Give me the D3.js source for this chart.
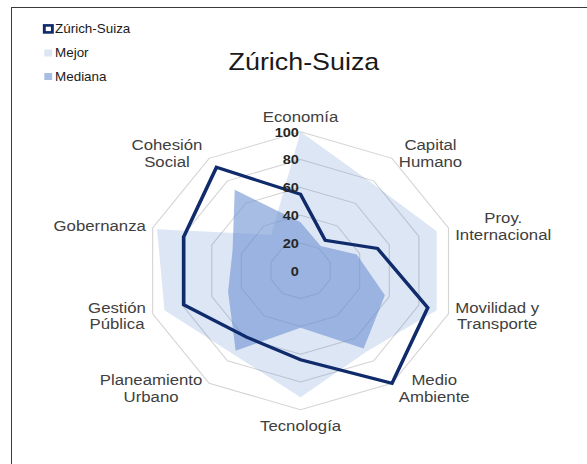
<!DOCTYPE html>
<html>
<head>
<meta charset="utf-8">
<script src="https://cdn.jsdelivr.net/npm/d3@7"></script>
<style>
  html, body { margin: 0; padding: 0; background: #fff; }
  svg { display: block; }
  text { font-family: "Liberation Sans", Arial, sans-serif; }
</style>
</head>
<body>
<svg id="chart" width="587" height="464"></svg>
<script>
// ---- data ----
const categories = ["Economía", "Capital Humano", "Proy. Internacional", "Movilidad y Transporte",
  "Medio Ambiente", "Tecnología", "Planeamiento Urbano", "Gestión Pública", "Gobernanza", "Cohesión Social"];
const categoryLines = [["Economía"], ["Capital", "Humano"], ["Proy.", "Internacional"], ["Movilidad y", "Transporte"],
  ["Medio", "Ambiente"], ["Tecnología"], ["Planeamiento", "Urbano"], ["Gestión", "Pública"], ["Gobernanza"], ["Cohesión", "Social"]];
const zurich = [55, 27, 52, 86, 100, 64, 59, 79, 79, 92];
const mejor = [100, 78, 92, 92, 72, 91, 74, 92, 97, 32];
const mediana = [35, 22, 38, 57, 69, 41, 71, 49, 46, 72];
const tickValues = [0, 20, 40, 60, 80, 100];
const seriesNames = ["Zúrich-Suiza", "Mejor", "Mediana"];
const titleText = "Zúrich-Suiza";

// ---- layout ----
const svg = d3.select("#chart");
const sx = 1.119;           // horizontal stretch of the original picture
const cx = 268.6, cy = 270.8, R = 139;

// frame (left and top edges visible)
svg.append("rect")
  .attr("x", 11.5).attr("y", 7.5).attr("width", 700).attr("height", 600)
  .attr("fill", "none").attr("stroke", "#3a3a3a").attr("stroke-width", 1);

const g = svg.append("g").attr("transform", `scale(${sx},1)`);

const r = d3.scaleLinear().domain([0, 100]).range([0, R]);
const ang = d3.scaleLinear().domain([0, categories.length]).range([0, 2 * Math.PI]);

const plot = g.append("g").attr("transform", `translate(${cx},${cy})`);

// grid rings
const ring = d3.lineRadial().curve(d3.curveLinearClosed);
tickValues.filter(t => t > 0).forEach(t => {
  plot.append("path")
    .attr("d", ring(categories.map((c, i) => [ang(i), r(t)])))
    .attr("fill", "none").attr("stroke", "#d4d4d4").attr("stroke-width", 1);
});

const radial = d3.lineRadial()
  .angle((d, i) => ang(i))
  .radius(d => r(d))
  .curve(d3.curveLinearClosed);

// filled series
plot.append("path").attr("d", radial(mejor))
  .attr("fill", "rgb(68,114,196)").attr("fill-opacity", 0.18);
plot.append("path").attr("d", radial(mediana))
  .attr("fill", "rgb(110,145,210)").attr("fill-opacity", 0.6);

// line series
plot.append("path").attr("d", radial(zurich))
  .attr("fill", "none").attr("stroke", "#0f2b6b").attr("stroke-width", 3.2)
  .attr("stroke-linejoin", "miter");

// tick labels
plot.selectAll("text.tick").data(tickValues).enter().append("text")
  .attr("class", "tick")
  .attr("x", -1.5)
  .attr("y", d => -r(d) + 4.7)
  .attr("text-anchor", "end")
  .attr("font-size", 13).attr("font-weight", "bold").attr("fill", "#262626")
  .text(d => d);

// category labels
categoryLines.forEach((lines, i) => {
  const a = ang(i);
  const s = Math.sin(a), c = Math.cos(a);
  const vx = R * s, vy = -R * c;
  const t = plot.append("text").attr("font-size", 15).attr("fill", "#404040").attr("text-anchor", "middle");
  lines.forEach((ln, k) => t.append("tspan").attr("x", 0).attr("dy", k === 0 ? 0 : 17).text(ln));
  const w = t.node().getBBox().width;
  let x, y0;
  if (Math.abs(s) < 0.1) {
    x = vx;
    y0 = c > 0 ? vy - 10 : vy + 21;
  } else {
    x = vx + Math.sign(s) * (6 + w / 2);
    const yc = vy - 6 * c;
    y0 = yc - (lines.length - 1) * 8.5 + 5.4;
  }
  t.attr("transform", `translate(${x},${y0})`);
});

// title
g.append("text")
  .attr("x", 271.6).attr("y", 70)
  .attr("text-anchor", "middle").attr("font-size", 24).attr("fill", "#1a1a1a")
  .text(titleText);

// legend
const legend = g.append("g");
const rowY = [29, 53, 76.5];
seriesNames.forEach((name, i) => {
  const y = rowY[i];
  if (i === 0) {
    legend.append("rect").attr("x", 39.6).attr("y", y - 3.6).attr("width", 7.2).attr("height", 7)
      .attr("fill", "#fff").attr("stroke", "#0f2b6b").attr("stroke-width", 2.6);
  } else {
    legend.append("rect").attr("x", 39.6).attr("y", y - 3.5).attr("width", 7).attr("height", 7)
      .attr("fill", i === 1 ? "rgb(68,114,196)" : "rgb(110,145,210)")
      .attr("fill-opacity", i === 1 ? 0.18 : 0.6);
  }
  legend.append("text").attr("x", 49.2).attr("y", y + 4.3)
    .attr("font-size", 12).attr("fill", "#1a1a1a").text(name);
});
</script>
</body>
</html>
